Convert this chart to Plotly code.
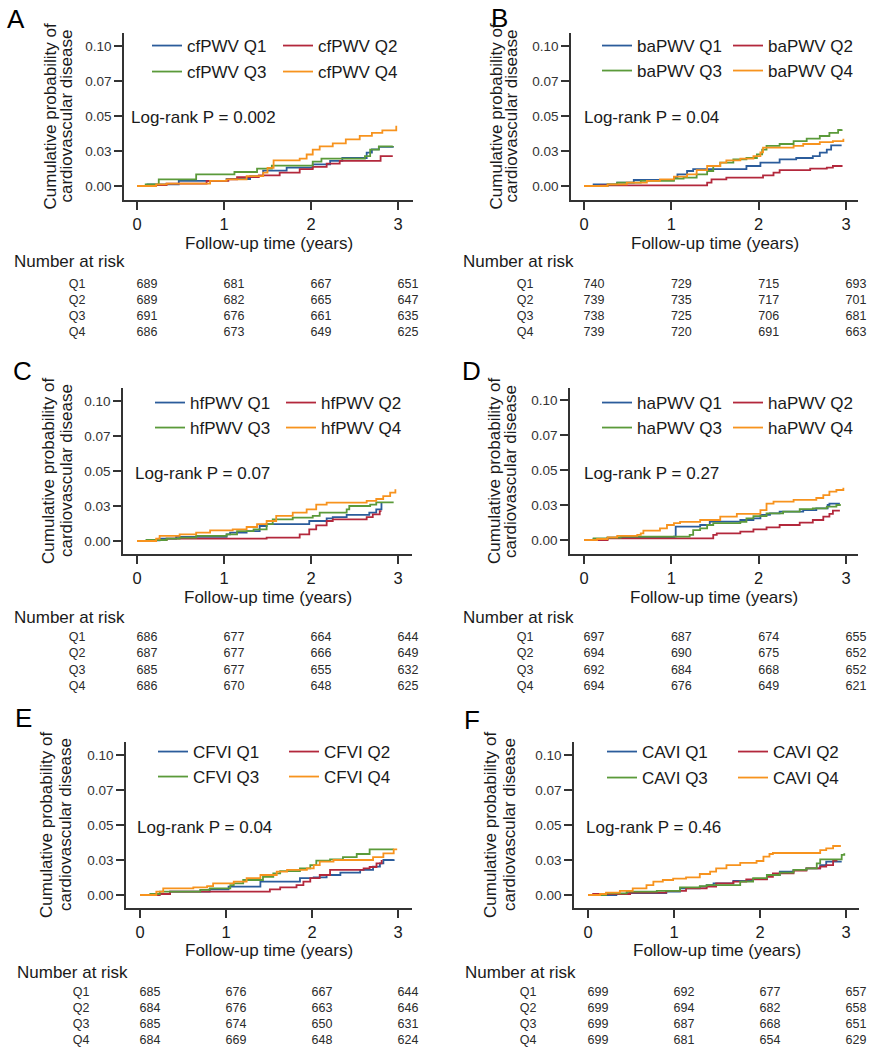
import plotly.graph_objects as go

W, H = 871, 1050
FONT = "Liberation Sans, Arial, Helvetica, sans-serif"
TXT = "#1a1a1a"
AX = "#333333"
COLORS = ["#2b5c9b", "#b3283c", "#5b9a3a", "#f7931e"]

# ---------------- data ----------------
TIME_TICKS = [0, 1, 2, 3]
Y_TICKVALS = [0, 0.025, 0.05, 0.075, 0.10]
Y_TICKTEXT = ["0.00", "0.03", "0.05", "0.07", "0.10"]
QUARTILES = ["Q1", "Q2", "Q3", "Q4"]
PANEL_LETTERS = ["A", "B", "C", "D", "E", "F"]
MEASURES = ["cfPWV", "baPWV", "hfPWV", "haPWV", "CFVI", "CAVI"]
LOGRANK_P = ["0.002", "0.04", "0.07", "0.27", "0.04", "0.46"]

# A: cfPWV
cf_q1_t = [0, 0.12, 0.48, 1.03, 1.30, 1.45, 1.72, 2.02, 2.22, 2.36, 2.64, 2.70, 2.78, 2.94]
cf_q1_p = [0, 0.0012, 0.0036, 0.0050, 0.0071, 0.0110, 0.0131, 0.0155, 0.0179, 0.0200, 0.0238, 0.0262, 0.0280, 0.0286]
cf_q2_t = [0, 0.20, 0.34, 0.80, 1.05, 1.15, 1.40, 1.64, 1.87, 2.02, 2.18, 2.33, 2.80, 2.94]
cf_q2_p = [0, 0.0007, 0.0017, 0.0036, 0.0048, 0.0064, 0.0076, 0.0095, 0.0120, 0.0136, 0.0160, 0.0180, 0.0214, 0.0214]
cf_q3_t = [0, 0.10, 0.25, 0.68, 1.12, 1.38, 1.55, 2.02, 2.12, 2.62, 2.68, 2.78, 2.94]
cf_q3_p = [0, 0.0012, 0.0048, 0.0083, 0.0100, 0.0124, 0.0145, 0.0174, 0.0195, 0.0214, 0.0260, 0.0283, 0.0286]
cf_q4_t = [0, 0.22, 0.34, 0.84, 1.03, 1.26, 1.45, 1.50, 1.57, 1.87, 1.95, 2.02, 2.10, 2.25, 2.40, 2.56, 2.70, 2.82, 2.98]
cf_q4_p = [0, 0.0012, 0.0017, 0.0036, 0.0048, 0.0071, 0.0095, 0.0130, 0.0183, 0.0195, 0.0225, 0.0260, 0.0283, 0.0305, 0.0333, 0.0358, 0.0380, 0.0398, 0.0430]

# B: baPWV
ba_q1_t = [0, 0.11, 0.38, 0.57, 1.03, 1.07, 1.18, 1.25, 1.86, 2.02, 2.24, 2.43, 2.62, 2.70, 2.78, 2.83, 2.95]
ba_q1_p = [0, 0.0012, 0.0024, 0.0043, 0.0060, 0.0083, 0.0107, 0.0120, 0.0143, 0.0167, 0.0190, 0.0200, 0.0214, 0.0238, 0.0260, 0.0290, 0.0290]
ba_q2_t = [0, 0.19, 1.41, 1.46, 1.63, 2.05, 2.17, 2.24, 2.59, 2.78, 2.85, 2.95]
ba_q2_p = [0, 0.0005, 0.0024, 0.0048, 0.0060, 0.0076, 0.0095, 0.0114, 0.0124, 0.0131, 0.0143, 0.0150]
ba_q3_t = [0, 0.27, 0.38, 0.65, 1.03, 1.14, 1.29, 1.41, 1.48, 1.56, 1.71, 1.86, 1.98, 2.04, 2.09, 2.24, 2.40, 2.55, 2.70, 2.81, 2.91, 2.95]
ba_q3_p = [0, 0.0012, 0.0024, 0.0036, 0.0052, 0.0060, 0.0083, 0.0107, 0.0143, 0.0167, 0.0190, 0.0200, 0.0226, 0.0260, 0.0286, 0.0300, 0.0320, 0.0338, 0.0357, 0.0380, 0.0400, 0.0405]
ba_q4_t = [0, 0.27, 0.49, 0.72, 0.87, 1.03, 1.18, 1.29, 1.41, 1.56, 1.63, 1.79, 1.94, 2.02, 2.05, 2.40, 2.51, 2.70, 2.85, 2.97]
ba_q4_p = [0, 0.0012, 0.0024, 0.0036, 0.0048, 0.0067, 0.0083, 0.0114, 0.0143, 0.0167, 0.0183, 0.0195, 0.0214, 0.0240, 0.0274, 0.0286, 0.0300, 0.0314, 0.0320, 0.0338]

# C: hfPWV
hf_q1_t = [0, 0.11, 0.26, 0.45, 1.03, 1.07, 1.26, 1.41, 1.49, 1.98, 2.18, 2.25, 2.41, 2.67, 2.75, 2.81]
hf_q1_p = [0, 0.0005, 0.0017, 0.0029, 0.0048, 0.0060, 0.0071, 0.0107, 0.0120, 0.0143, 0.0162, 0.0170, 0.0186, 0.0202, 0.0226, 0.0272]
hf_q2_t = [0, 0.22, 0.34, 1.49, 1.87, 1.98, 2.06, 2.18, 2.25, 2.64, 2.71, 2.79, 2.81]
hf_q2_p = [0, 0.0007, 0.0017, 0.0024, 0.0048, 0.0083, 0.0112, 0.0143, 0.0155, 0.0170, 0.0190, 0.0214, 0.0214]
hf_q3_t = [0, 0.11, 0.34, 0.49, 0.68, 1.03, 1.15, 1.34, 1.49, 1.56, 1.79, 2.02, 2.10, 2.41, 2.44, 2.68, 2.75, 2.95]
hf_q3_p = [0, 0.0007, 0.0017, 0.0024, 0.0036, 0.0048, 0.0071, 0.0083, 0.0120, 0.0155, 0.0167, 0.0179, 0.0202, 0.0226, 0.0250, 0.0260, 0.0276, 0.0276]
hf_q4_t = [0, 0.22, 0.26, 0.49, 0.68, 0.84, 1.10, 1.26, 1.38, 1.49, 1.60, 1.79, 1.95, 2.06, 2.18, 2.64, 2.75, 2.83, 2.91, 2.97]
hf_q4_p = [0, 0.0017, 0.0036, 0.0048, 0.0060, 0.0076, 0.0083, 0.0100, 0.0120, 0.0143, 0.0179, 0.0202, 0.0226, 0.0260, 0.0274, 0.0286, 0.0300, 0.0320, 0.0345, 0.0370]

# D: haPWV
ha_q1_t = [0, 0.11, 0.27, 1.03, 1.05, 1.33, 1.44, 1.79, 1.94, 2.02, 2.13, 2.24, 2.51, 2.66, 2.79, 2.81, 2.93]
ha_q1_p = [0, 0.0007, 0.0017, 0.0024, 0.0095, 0.0107, 0.0131, 0.0143, 0.0155, 0.0179, 0.0190, 0.0202, 0.0214, 0.0226, 0.0250, 0.0260, 0.0260]
ha_q2_t = [0, 0.27, 1.48, 1.52, 1.79, 1.94, 2.09, 2.24, 2.47, 2.62, 2.74, 2.81, 2.85, 2.93]
ha_q2_p = [0, 0.0012, 0.0036, 0.0048, 0.0060, 0.0076, 0.0090, 0.0107, 0.0124, 0.0143, 0.0167, 0.0186, 0.0210, 0.0210]
ha_q3_t = [0, 0.11, 0.27, 0.42, 1.21, 1.25, 1.33, 1.41, 1.48, 1.79, 1.86, 1.94, 2.09, 2.28, 2.47, 2.62, 2.78, 2.89, 2.93]
ha_q3_p = [0, 0.0012, 0.0017, 0.0024, 0.0036, 0.0071, 0.0083, 0.0107, 0.0120, 0.0130, 0.0155, 0.0170, 0.0190, 0.0202, 0.0220, 0.0226, 0.0238, 0.0250, 0.0257]
ha_q4_t = [0, 0.15, 0.27, 0.38, 0.61, 0.65, 0.68, 0.87, 0.95, 1.03, 1.10, 1.33, 1.56, 1.75, 2.02, 2.09, 2.17, 2.40, 2.66, 2.74, 2.81, 2.89, 2.97]
ha_q4_p = [0, 0.0007, 0.0019, 0.0029, 0.0036, 0.0048, 0.0067, 0.0083, 0.0107, 0.0120, 0.0130, 0.0143, 0.0167, 0.0186, 0.0214, 0.0260, 0.0274, 0.0286, 0.0300, 0.0320, 0.0345, 0.0357, 0.0374]

# E: CFVI
cfvi_q1_t = [0, 0.16, 0.35, 0.81, 1.03, 1.40, 1.86, 2.02, 2.17, 2.33, 2.56, 2.71, 2.79, 2.83, 2.95]
cfvi_q1_p = [0, 0.0007, 0.0024, 0.0040, 0.0060, 0.0095, 0.0120, 0.0126, 0.0143, 0.0160, 0.0179, 0.0202, 0.0226, 0.0250, 0.0255]
cfvi_q2_t = [0, 0.23, 0.35, 1.51, 1.63, 1.82, 1.90, 1.98, 2.09, 2.21, 2.60, 2.67, 2.75, 2.81]
cfvi_q2_p = [0, 0.0007, 0.0024, 0.0040, 0.0055, 0.0071, 0.0095, 0.0120, 0.0143, 0.0179, 0.0190, 0.0200, 0.0226, 0.0250]
cfvi_q3_t = [0, 0.12, 0.23, 0.70, 0.81, 1.05, 1.09, 1.20, 1.43, 1.55, 1.63, 1.86, 1.98, 2.05, 2.21, 2.36, 2.52, 2.67, 2.95]
cfvi_q3_p = [0, 0.0007, 0.0024, 0.0036, 0.0048, 0.0071, 0.0083, 0.0107, 0.0130, 0.0155, 0.0170, 0.0190, 0.0214, 0.0245, 0.0255, 0.0270, 0.0293, 0.0326, 0.0326]
cfvi_q4_t = [0, 0.19, 0.27, 0.62, 0.78, 0.85, 1.09, 1.24, 1.40, 1.59, 1.71, 1.94, 2.02, 2.09, 2.25, 2.71, 2.83, 2.95, 2.98]
cfvi_q4_p = [0, 0.0024, 0.0048, 0.0055, 0.0064, 0.0083, 0.0095, 0.0120, 0.0143, 0.0167, 0.0179, 0.0190, 0.0214, 0.0238, 0.0250, 0.0270, 0.0298, 0.0326, 0.0333]

# F: CAVI
cavi_q1_t = [0, 0.33, 0.45, 0.91, 1.07, 1.30, 1.38, 1.46, 1.69, 1.92, 2.08, 2.23, 2.39, 2.54, 2.70, 2.77, 2.95]
cavi_q1_p = [0, 0.0007, 0.0014, 0.0024, 0.0048, 0.0060, 0.0071, 0.0083, 0.0100, 0.0114, 0.0143, 0.0167, 0.0179, 0.0190, 0.0214, 0.0238, 0.0238]
cavi_q2_t = [0, 0.06, 0.49, 0.91, 1.14, 1.38, 1.49, 1.69, 1.84, 2.08, 2.15, 2.39, 2.54, 2.70, 2.77, 2.85, 2.89]
cavi_q2_p = [0, 0.0007, 0.0017, 0.0029, 0.0048, 0.0060, 0.0083, 0.0095, 0.0112, 0.0130, 0.0155, 0.0174, 0.0190, 0.0202, 0.0214, 0.0245, 0.0255]
cavi_q3_t = [0, 0.21, 0.45, 0.80, 1.07, 1.30, 1.38, 1.77, 1.92, 2.08, 2.23, 2.39, 2.54, 2.66, 2.70, 2.95, 2.98]
cavi_q3_p = [0, 0.0012, 0.0024, 0.0030, 0.0055, 0.0064, 0.0071, 0.0095, 0.0120, 0.0143, 0.0160, 0.0179, 0.0190, 0.0226, 0.0255, 0.0286, 0.0298]
cavi_q4_t = [0, 0.14, 0.21, 0.37, 0.52, 0.68, 0.76, 0.87, 0.99, 1.14, 1.30, 1.42, 1.49, 1.61, 1.77, 1.96, 2.04, 2.11, 2.15, 2.70, 2.77, 2.85, 2.93]
cavi_q4_p = [0, 0.0007, 0.0017, 0.0030, 0.0048, 0.0071, 0.0095, 0.0107, 0.0117, 0.0126, 0.0150, 0.0167, 0.0190, 0.0214, 0.0230, 0.0243, 0.0274, 0.0293, 0.0300, 0.0320, 0.0333, 0.0350, 0.0357]

# Numbers at risk (rows Q1..Q4, columns at years 0,1,2,3)
cf_risk = [[689, 681, 667, 651], [689, 682, 665, 647], [691, 676, 661, 635], [686, 673, 649, 625]]
ba_risk = [[740, 729, 715, 693], [739, 735, 717, 701], [738, 725, 706, 681], [739, 720, 691, 663]]
hf_risk = [[686, 677, 664, 644], [687, 677, 666, 649], [685, 677, 655, 632], [686, 670, 648, 625]]
ha_risk = [[697, 687, 674, 655], [694, 690, 675, 652], [692, 684, 668, 652], [694, 676, 649, 621]]
cfvi_risk = [[685, 676, 667, 644], [684, 676, 663, 646], [685, 674, 650, 631], [684, 669, 648, 624]]
cavi_risk = [[699, 692, 677, 657], [699, 694, 682, 658], [699, 687, 668, 651], [699, 681, 654, 629]]

CURVES = [
    [(cf_q1_t, cf_q1_p), (cf_q2_t, cf_q2_p), (cf_q3_t, cf_q3_p), (cf_q4_t, cf_q4_p)],
    [(ba_q1_t, ba_q1_p), (ba_q2_t, ba_q2_p), (ba_q3_t, ba_q3_p), (ba_q4_t, ba_q4_p)],
    [(hf_q1_t, hf_q1_p), (hf_q2_t, hf_q2_p), (hf_q3_t, hf_q3_p), (hf_q4_t, hf_q4_p)],
    [(ha_q1_t, ha_q1_p), (ha_q2_t, ha_q2_p), (ha_q3_t, ha_q3_p), (ha_q4_t, ha_q4_p)],
    [(cfvi_q1_t, cfvi_q1_p), (cfvi_q2_t, cfvi_q2_p), (cfvi_q3_t, cfvi_q3_p), (cfvi_q4_t, cfvi_q4_p)],
    [(cavi_q1_t, cavi_q1_p), (cavi_q2_t, cavi_q2_p), (cavi_q3_t, cavi_q3_p), (cavi_q4_t, cavi_q4_p)],
]
RISK = [cf_risk, ba_risk, hf_risk, ha_risk, cfvi_risk, cavi_risk]

# ---------------- layout geometry (pixels) ----------------
GEOM = [
    dict(left=124, right=413, top=33, bottom=200, x0=137, x3=398, y0=186, y10=46,
         letter=(16, 19), yt=(50, 66), xt=243, lr=(129, 118), nar=(12, 262), qx=77,
         rows=(285, 333), tdom=(40, 430), leg=(147, 46, 72)),
    dict(left=571, right=858, top=33, bottom=200, x0=584, x3=846, y0=186, y10=46,
         letter=(500, 18), yt=(496, 511), xt=243, lr=(582, 118), nar=(461, 262), qx=525,
         rows=(285, 333), tdom=(490, 871), leg=(597, 46, 71)),
    dict(left=123, right=412, top=388, bottom=554, x0=137, x3=398, y0=541, y10=401,
         letter=(22, 371), yt=(48, 66), xt=597, lr=(133, 473), nar=(12, 617), qx=77,
         rows=(638, 687), tdom=(40, 430), leg=(150, 403, 428)),
    dict(left=570, right=858, top=388, bottom=554, x0=584, x3=846, y0=540, y10=400,
         letter=(471, 371), yt=(494, 510), xt=597, lr=(582, 473), nar=(461, 617), qx=525,
         rows=(638, 687), tdom=(490, 871), leg=(597, 403, 428)),
    dict(left=126, right=412, top=742, bottom=908, x0=140, x3=398, y0=895, y10=755,
         letter=(23, 718), yt=(46, 65), xt=950, lr=(135, 827), nar=(15, 972), qx=81,
         rows=(993, 1041), tdom=(40, 430), leg=(153, 752, 777)),
    dict(left=574, right=859, top=742, bottom=908, x0=588, x3=846, y0=895, y10=755,
         letter=(472, 720), yt=(490, 509), xt=950, lr=(584, 827), nar=(463, 972), qx=528,
         rows=(993, 1041), tdom=(490, 871), leg=(602, 752, 778)),
]


def fx(p):
    return p / W


def fy(p):
    return 1 - p / H


fig = go.Figure()
layout = dict(
    width=W, height=H, margin=dict(l=0, r=0, t=0, b=0),
    paper_bgcolor="white", plot_bgcolor="white",
    font=dict(family=FONT, color=TXT), showlegend=True,
)
annotations = []

for i, g in enumerate(GEOM):
    n_plot = 2 * i + 1
    n_tab = 2 * i + 2
    xp = "x" if n_plot == 1 else f"x{n_plot}"
    yp = "y" if n_plot == 1 else f"y{n_plot}"
    xt_ = f"x{n_tab}"
    yt_ = f"y{n_tab}"

    ppu = (g["x3"] - g["x0"]) / 3.0
    ppv = (g["y0"] - g["y10"]) / 0.1
    xr = [(g["left"] - g["x0"]) / ppu, (g["right"] - g["x0"]) / ppu]
    yr = [-(g["bottom"] - g["y0"]) / ppv, 0.1 + (g["y10"] - g["top"]) / ppv]

    layout["xaxis" if n_plot == 1 else f"xaxis{n_plot}"] = dict(
        domain=[fx(g["left"]), fx(g["right"])], range=xr, anchor=yp,
        tickmode="array", tickvals=TIME_TICKS, ticktext=[str(t) for t in TIME_TICKS],
        ticks="outside", ticklen=8, tickwidth=1.5, tickcolor=AX,
        showline=True, linecolor=AX, linewidth=1.5, showgrid=False, zeroline=False,
        tickfont=dict(size=16.5, color=TXT, family=FONT), fixedrange=True,
    )
    layout["yaxis" if n_plot == 1 else f"yaxis{n_plot}"] = dict(
        domain=[fy(g["bottom"]), fy(g["top"])], range=yr, anchor=xp,
        tickmode="array", tickvals=Y_TICKVALS, ticktext=Y_TICKTEXT,
        ticks="outside", ticklen=8, tickwidth=1.5, tickcolor=AX,
        showline=True, linecolor=AX, linewidth=1.5, showgrid=False, zeroline=False,
        tickfont=dict(size=13.5, color="#333333", family=FONT), fixedrange=True,
    )

    # table axes: same px-per-year scale, numbers centred 10px right of the ticks
    org = g["x0"] + 10
    r1, r4 = g["rows"]
    pad = (r4 - r1) / 6.0
    layout[f"xaxis{n_tab}"] = dict(
        domain=[fx(g["tdom"][0]), fx(g["tdom"][1])],
        range=[(g["tdom"][0] - org) / ppu, (g["tdom"][1] - org) / ppu],
        anchor=yt_, visible=False, fixedrange=True,
    )
    layout[f"yaxis{n_tab}"] = dict(
        domain=[fy(r4 + pad), fy(r1 - pad)], range=[4.5, 0.5],
        anchor=xt_, visible=False, fixedrange=True,
    )

    # curves
    for q, (tt, pp) in enumerate(CURVES[i]):
        leg_idx = 2 * i + q // 2 + 1
        leg_name = "legend" if leg_idx == 1 else f"legend{leg_idx}"
        fig.add_trace(go.Scatter(
            x=tt, y=pp, mode="lines", line=dict(color=COLORS[q], width=1.8, shape="hv"),
            name=f"{MEASURES[i]} {QUARTILES[q]}", legend=leg_name,
            xaxis=xp, yaxis=yp, hoverinfo="skip",
        ))

    # number-at-risk table
    qx_t = (g["qx"] - org) / ppu
    tx, ty, tt_ = [], [], []
    for r, qname in enumerate(QUARTILES):
        tx.append(qx_t)
        ty.append(r + 1)
        tt_.append(qname)
        for c, t in enumerate(TIME_TICKS):
            tx.append(t)
            ty.append(r + 1)
            tt_.append(str(RISK[i][r][c]))
    fig.add_trace(go.Scatter(
        x=tx, y=ty, text=tt_, mode="text", textposition="middle center",
        textfont=dict(size=12.5, color="#2a2a2a", family=FONT),
        xaxis=xt_, yaxis=yt_, showlegend=False, hoverinfo="skip", cliponaxis=False,
    ))

    # legends (one per row of two entries)
    lx, ly1, ly2 = g["leg"]
    for r, ly in enumerate([ly1, ly2]):
        leg_idx = 2 * i + r + 1
        leg_name = "legend" if leg_idx == 1 else f"legend{leg_idx}"
        layout[leg_name] = dict(
            orientation="h", x=fx(lx), y=fy(ly), xanchor="left", yanchor="middle",
            font=dict(size=17, color=TXT, family=FONT), bgcolor="rgba(0,0,0,0)",
            borderwidth=0, entrywidth=86, entrywidthmode="pixels",
        )

    # texts
    cy = (g["top"] + g["bottom"]) / 2.0
    annotations += [
        dict(text=PANEL_LETTERS[i], x=fx(g["letter"][0]), y=fy(g["letter"][1]),
             xanchor="center", yanchor="middle", font=dict(size=26, color="black", family=FONT)),
        dict(text="Cumulative probability of", x=fx(g["yt"][0]), y=fy(cy), textangle=-90,
             xanchor="center", yanchor="middle", font=dict(size=17, color=TXT, family=FONT)),
        dict(text="cardiovascular disease", x=fx(g["yt"][1]), y=fy(cy), textangle=-90,
             xanchor="center", yanchor="middle", font=dict(size=17, color=TXT, family=FONT)),
        dict(text="Follow-up time (years)", x=fx((g["left"] + g["right"]) / 2.0), y=fy(g["xt"]),
             xanchor="center", yanchor="middle", font=dict(size=17, color=TXT, family=FONT)),
        dict(text=f"Log-rank P = {LOGRANK_P[i]}", x=fx(g["lr"][0]), y=fy(g["lr"][1]),
             xanchor="left", yanchor="middle", font=dict(size=17, color=TXT, family=FONT)),
        dict(text="Number at risk", x=fx(g["nar"][0]), y=fy(g["nar"][1]),
             xanchor="left", yanchor="middle", font=dict(size=17, color=TXT, family=FONT)),
    ]

for a in annotations:
    a.update(xref="paper", yref="paper", showarrow=False)
layout["annotations"] = annotations

fig.update_layout(**layout)
# remove the browser's default 8px body margin so the figure sits at the page origin
fig.write_html(
    "out.html",
    config={"displayModeBar": False},
    post_script="document.body.style.margin='0';document.body.style.overflow='hidden';",
)
